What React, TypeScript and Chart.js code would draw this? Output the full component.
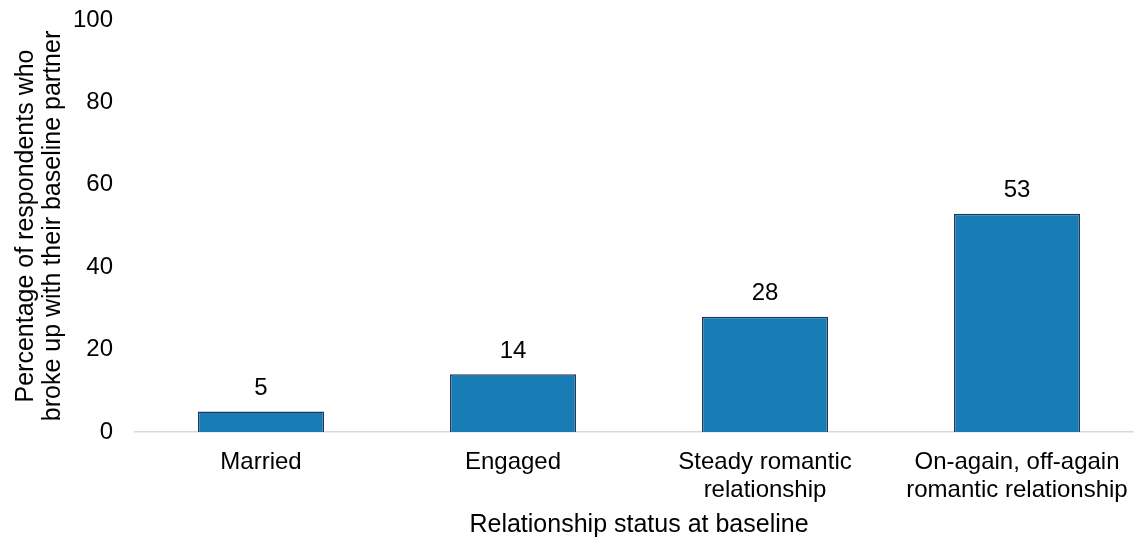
import React, { useEffect, useRef } from "react";
import { Chart, registerables } from "chart.js";

Chart.register(...registerables);

const categories: (string | string[])[] = [
  "Married",
  "Engaged",
  ["Steady romantic", "relationship"],
  ["On-again, off-again", "romantic relationship"],
];
const values: number[] = [5, 14, 28, 53];
const yTicks: number[] = [0, 20, 40, 60, 80, 100];

const FONT = "'Liberation Sans', Arial, sans-serif";

const labelPlugin = {
  id: "barLabels",
  afterDatasetsDraw(chart: any) {
    const ctx = chart.ctx;
    const meta = chart.getDatasetMeta(0);
    ctx.save();
    ctx.font = `24px ${FONT}`;
    ctx.fillStyle = "#000";
    ctx.textAlign = "center";
    ctx.textBaseline = "bottom";
    meta.data.forEach((bar: any, i: number) => {
      ctx.fillText(String(values[i]), bar.x, bar.y - 11);
    });
    ctx.restore();
  },
};

export default function App() {
  const ref = useRef<HTMLCanvasElement>(null);
  useEffect(() => {
    if (!ref.current) return;
    const chart = new Chart(ref.current, {
      type: "bar",
      data: {
        labels: categories as any,
        datasets: [
          {
            data: values,
            backgroundColor: "#187db5",
            borderColor: "#1f3864",
            borderWidth: 1.5,
            barPercentage: 0.5,
            categoryPercentage: 1,
          },
        ],
      },
      options: {
        animation: false,
        responsive: false,
        layout: { padding: { top: 20, right: 0, left: 0, bottom: 0 } },
        plugins: {
          legend: { display: false },
          tooltip: { enabled: false },
        },
        scales: {
          x: {
            grid: { display: false, drawTicks: false, tickLength: 0 },
            border: { color: "#d9d9d9", width: 1.5 },
            afterFit: (axis: any) => {
              axis.paddingLeft = 0;
              axis.paddingRight = 0;
              axis.height = 108;
            },
            ticks: {
              color: "#000",
              font: { family: FONT, size: 24, lineHeight: 1.15 },
              maxRotation: 0,
              padding: 17,
            },
            title: {
              display: true,
              text: "Relationship status at baseline",
              color: "#000",
              font: { family: FONT, size: 25 },
              padding: { top: 6, bottom: 0 },
            },
          },
          y: {
            min: 0,
            max: 100,
            afterBuildTicks: (axis: any) => {
              axis.ticks = yTicks.map((v) => ({ value: v }));
            },
            afterFit: (axis: any) => {
              axis.paddingTop = 0;
              axis.paddingBottom = 0;
              axis.width = 135;
            },
            grid: { display: false, drawTicks: false, tickLength: 0 },
            border: { display: false },
            ticks: {
              color: "#000",
              font: { family: FONT, size: 24 },
              padding: 22,
            },
            title: {
              display: true,
              text: [
                "Percentage of respondents who",
                "broke up with their baseline partner",
              ],
              color: "#000",
              font: { family: FONT, size: 25, lineHeight: 1.1 },
              padding: { top: 12, bottom: 8 },
            },
          },
        },
      },
      plugins: [labelPlugin],
    });
    return () => chart.destroy();
  }, []);
  return (
    <div style={{ position: "fixed", left: 0, top: 0, width: 1134, height: 540, overflow: "hidden", background: "#fff" }}>
      <canvas ref={ref} width={1143} height={540} style={{ width: 1143, height: 540, display: "block" }} />
    </div>
  );
}
